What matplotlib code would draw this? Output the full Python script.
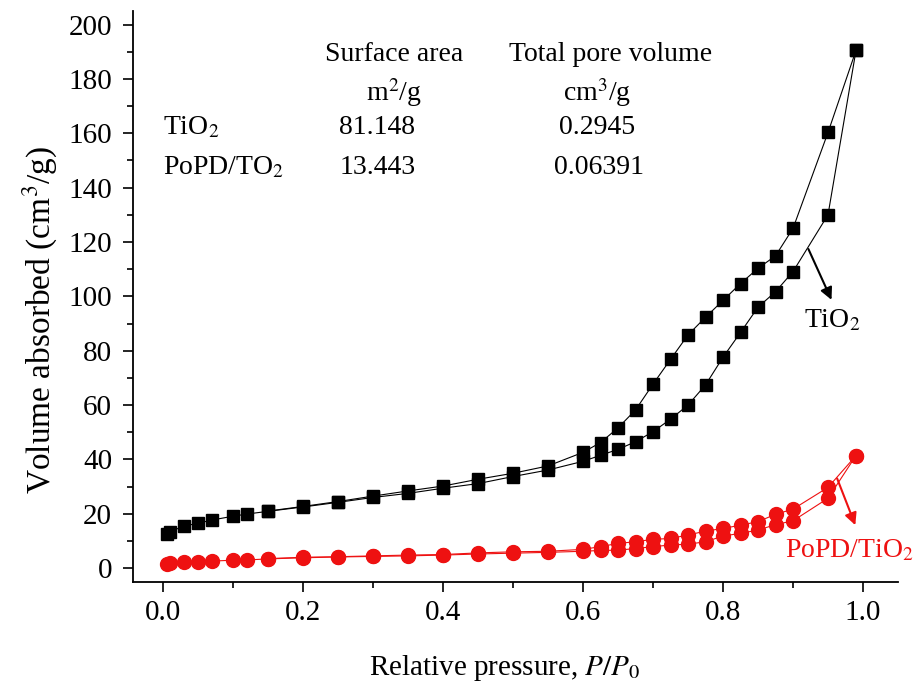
import numpy as np
import matplotlib.pyplot as plt
from matplotlib.ticker import MultipleLocator

plt.rcParams['font.family'] = 'Liberation Serif'
plt.rcParams['mathtext.fontset'] = 'stix'

# adsorption branch (increasing P/P0)
p_ads = [0.005, 0.01, 0.03, 0.05, 0.07, 0.10, 0.12, 0.15, 0.20, 0.25, 0.30,
         0.35, 0.40, 0.45, 0.50, 0.55, 0.60, 0.625, 0.65, 0.675, 0.70, 0.725,
         0.75, 0.775, 0.80, 0.825, 0.85, 0.875, 0.90, 0.95, 0.99]
# desorption branch (decreasing P/P0)
p_des = [0.99, 0.95, 0.90, 0.875, 0.85, 0.825, 0.80, 0.775, 0.75, 0.725, 0.70,
         0.675, 0.65, 0.625, 0.60, 0.55, 0.50, 0.45, 0.40, 0.35, 0.30, 0.25,
         0.20, 0.15]

tio2_ads = [12.5, 13.4, 15.5, 16.5, 17.7, 19.1, 19.9, 20.9, 22.5, 24.2, 26.0,
            27.5, 29.4, 31.1, 33.7, 36.1, 39.3, 41.5, 43.7, 46.5, 50.2, 54.8,
            60.0, 67.4, 77.6, 86.7, 96.0, 101.7, 109.1, 130.0, 190.5]
tio2_des = [190.5, 160.3, 125.0, 114.9, 110.3, 104.7, 98.5, 92.3, 85.8, 76.8,
            67.7, 58.2, 51.6, 46.2, 42.6, 37.6, 34.9, 32.7, 30.2, 28.4, 26.5,
            24.5, 22.7, 21.0]

popd_ads = [1.4, 2.0, 2.3, 2.4, 2.6, 2.9, 3.0, 3.4, 3.8, 4.1, 4.3, 4.5, 4.8,
            5.2, 5.5, 5.8, 6.2, 6.5, 6.6, 7.2, 7.9, 8.5, 8.8, 9.7, 11.8, 12.8,
            14.0, 16.0, 17.4, 25.7, 41.4]
popd_des = [41.4, 29.7, 21.7, 19.8, 17.1, 15.8, 14.6, 13.6, 12.2, 10.9, 10.6,
            9.7, 9.1, 7.9, 6.9, 6.2, 6.0, 5.6, 5.0, 4.8, 4.5, 4.2, 4.0, 3.5]

fig = plt.figure(figsize=(9.14, 6.85), dpi=100)
ax = fig.add_axes([0.1455, 0.150, 0.837, 0.834])

ax.plot(p_ads, tio2_ads, 'k-', marker='s', ms=9, lw=0.8)
ax.plot(p_des, tio2_des, 'k-', marker='s', ms=9, lw=0.8)
ax.plot(p_ads, popd_ads, '-', color='#ee1111', marker='o', ms=10, lw=0.8)
ax.plot(p_des, popd_des, '-', color='#ee1111', marker='o', ms=10, lw=0.8)

ax.set_xlim(-0.043, 1.05)
ax.set_ylim(-5.2, 205)
ax.spines['top'].set_visible(False)
ax.spines['right'].set_visible(False)
for s in ['left', 'bottom']:
    ax.spines[s].set_linewidth(1.3)
ax.xaxis.set_major_locator(MultipleLocator(0.2))
ax.xaxis.set_minor_locator(MultipleLocator(0.1))
ax.yaxis.set_major_locator(MultipleLocator(20))
ax.yaxis.set_minor_locator(MultipleLocator(10))
ax.tick_params(which='major', direction='out', length=7, width=1.2, labelsize=21)
ax.tick_params(which='minor', direction='out', length=4, width=1.2)
ax.tick_params(axis='x', pad=6)
ax.tick_params(axis='y', pad=8)
ax.set_xticks([0.0, 0.2, 0.4, 0.6, 0.8, 1.0])
ax.set_xticklabels(['0.0', '0.2', '0.4', '0.6', '0.8', '1.0'])

ax.set_xlabel(r'Relative pressure, $P/P_0$', fontsize=21)
ax.set_ylabel(r'Volume absorbed (cm$^3$/g)', fontsize=24)
ax.xaxis.set_label_coords(0.486, -0.124)
ax.yaxis.set_label_coords(-0.095, 0.459)

# table of surface area / pore volume
fs = 20
ax.text(0.330, 189, 'Surface area', fontsize=fs, ha='center', va='center')
ax.text(0.640, 189, 'Total pore volume', fontsize=fs, ha='center', va='center')
ax.text(0.330, 175, r'm$^2$/g', fontsize=fs, ha='center', va='center')
ax.text(0.620, 175, r'cm$^3$/g', fontsize=fs, ha='center', va='center')
ax.text(0.0, 162, r'TiO$_2$', fontsize=fs, ha='left', va='center')
ax.text(0.306, 162, '81.148', fontsize=fs, ha='center', va='center')
ax.text(0.620, 162, '0.2945', fontsize=fs, ha='center', va='center')
ax.text(0.0, 147.5, r'PoPD/TO$_2$', fontsize=fs, ha='left', va='center')
ax.text(0.306, 147.5, '13.443', fontsize=fs, ha='center', va='center')
ax.text(0.623, 147.5, '0.06391', fontsize=fs, ha='center', va='center')

# curve labels with arrows
ax.annotate('', xy=(0.955, 98.7), xytext=(0.922, 117.4),
            arrowprops=dict(arrowstyle='-|>', color='k', lw=1.5,
                            mutation_scale=18, shrinkA=0, shrinkB=0))
ax.text(0.915, 91, r'TiO$_2$', fontsize=fs, ha='left', va='center')
ax.annotate('', xy=(0.989, 15.8), xytext=(0.963, 33.0),
            arrowprops=dict(arrowstyle='-|>', color='#ee1111', lw=1.5,
                            mutation_scale=18, shrinkA=0, shrinkB=0))
ax.text(0.889, 6.5, r'PoPD/TiO$_2$', fontsize=fs, ha='left', va='center',
        color='#ee1111')

plt.savefig('out.png', dpi=100)
